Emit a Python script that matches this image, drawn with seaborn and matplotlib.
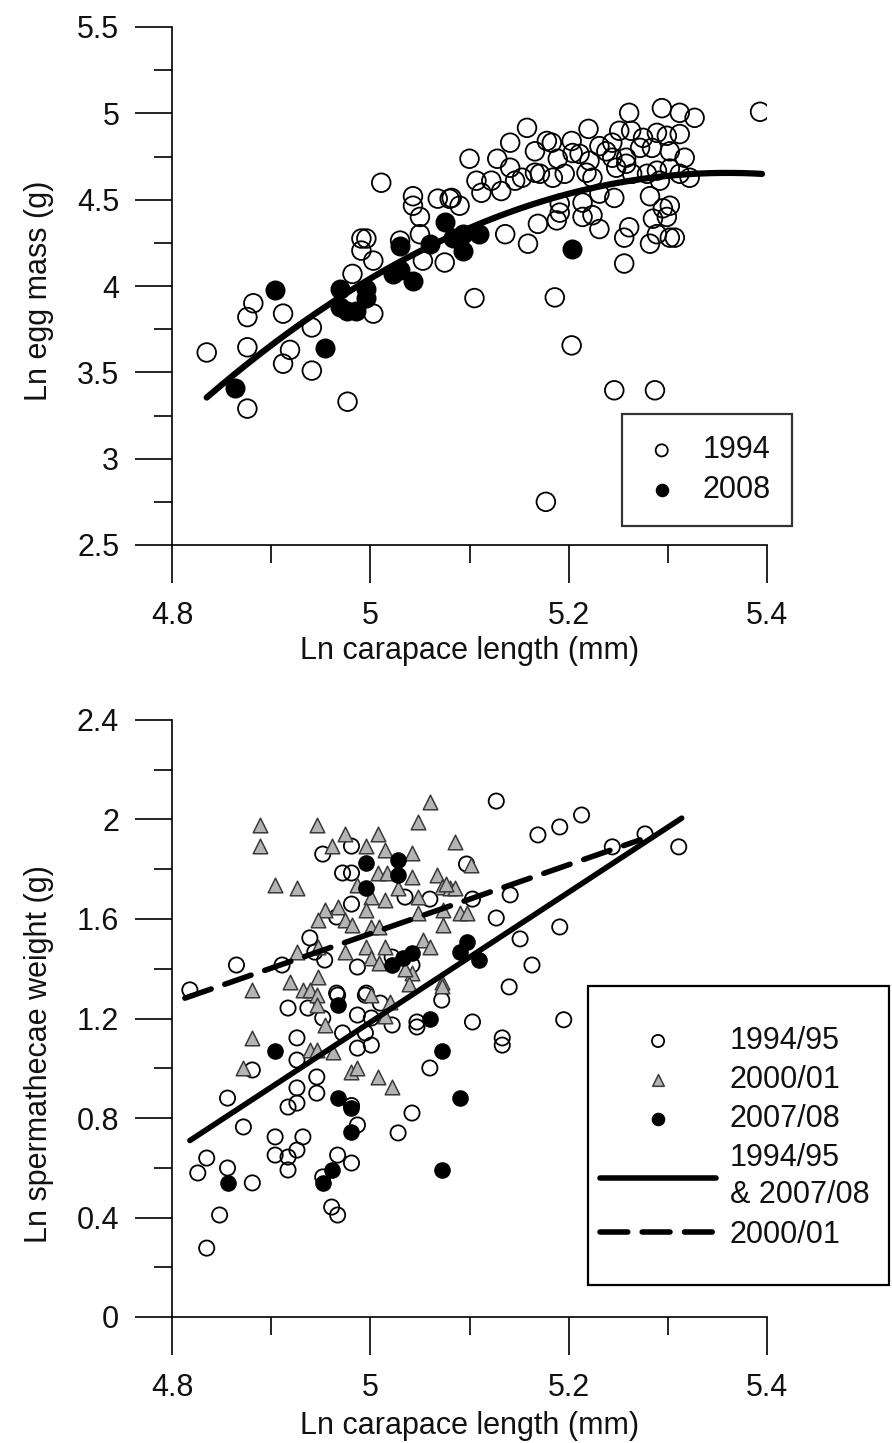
import numpy as np
import pandas as pd
import matplotlib
matplotlib.use("Agg")
import matplotlib.pyplot as plt
import seaborn as sns
from matplotlib.ticker import MultipleLocator, FuncFormatter
from matplotlib.patches import Rectangle

# ---------------- data: top panel (egg mass) ----------------
egg_1994_x = [5.011, 5.043, 5.043, 5.050, 5.050, 5.068, 5.082, 5.075, 5.053, 5.030,
              4.991, 4.996, 4.991, 5.003, 4.982, 5.003, 4.882, 4.876, 4.912, 4.941,
              4.835, 4.876, 4.919, 4.912, 4.941, 4.876, 4.977,
              5.393, 5.261, 5.294, 5.312, 5.327, 5.158, 5.220, 5.251, 5.263, 5.312,
              5.141, 5.178, 5.183, 5.203, 5.231, 5.244, 5.275, 5.289, 5.299, 5.100,
              5.128, 5.141, 5.166, 5.189, 5.204, 5.211, 5.221, 5.238, 5.244, 5.258,
              5.272, 5.284, 5.302, 5.317, 5.107, 5.122, 5.112, 5.132, 5.146, 5.153,
              5.166, 5.171, 5.184, 5.196, 5.218, 5.224, 5.248, 5.258, 5.264, 5.279,
              5.289, 5.292, 5.302, 5.312, 5.322, 5.080, 5.090, 5.191, 5.191, 5.188,
              5.214, 5.231, 5.246, 5.282, 5.302, 5.295, 5.299, 5.285, 5.169, 5.214,
              5.224, 5.231, 5.261, 5.256, 5.289, 5.302, 5.307, 5.282, 5.136, 5.159,
              5.256, 5.105, 5.186, 5.203, 5.246, 5.287, 5.177]
egg_1994_y = [4.598, 4.520, 4.465, 4.400, 4.300, 4.506, 4.510, 4.136, 4.147, 4.263,
              4.275, 4.275, 4.205, 4.147, 4.070, 3.840, 3.900, 3.820, 3.840, 3.760,
              3.615, 3.645, 3.630, 3.550, 3.510, 3.290, 3.330,
              5.009, 5.003, 5.030, 5.003, 4.974, 4.916, 4.910, 4.899, 4.899, 4.880,
              4.830, 4.840, 4.830, 4.840, 4.810, 4.830, 4.858, 4.887, 4.870, 4.737,
              4.737, 4.685, 4.780, 4.737, 4.770, 4.765, 4.725, 4.780, 4.743, 4.743,
              4.800, 4.800, 4.780, 4.743, 4.610, 4.610, 4.540, 4.550, 4.610, 4.627,
              4.656, 4.650, 4.627, 4.650, 4.656, 4.627, 4.685, 4.708, 4.650, 4.650,
              4.668, 4.610, 4.680, 4.650, 4.627, 4.505, 4.465, 4.477, 4.425, 4.380,
              4.483, 4.535, 4.510, 4.520, 4.465, 4.450, 4.400, 4.390, 4.360, 4.400,
              4.410, 4.330, 4.340, 4.280, 4.300, 4.280, 4.280, 4.245, 4.300, 4.245,
              4.130, 3.930, 3.934, 3.656, 3.396, 3.396, 2.750]

egg_2008_x = [4.864, 4.904, 4.954, 4.969, 4.969, 4.976, 4.986, 4.996, 4.996, 5.023,
              5.030, 5.043, 5.030, 5.060, 5.075, 5.083, 5.093, 5.110, 5.093, 5.203]
egg_2008_y = [3.407, 3.974, 3.640, 3.985, 3.876, 3.858, 3.858, 3.985, 3.930, 4.070,
              4.234, 4.030, 4.090, 4.245, 4.370, 4.280, 4.205, 4.300, 4.300, 4.216]

# quadratic fit (vertex form): y = peak - k * (x - x_peak)^2
egg_fit_k = 4.72
egg_fit_xpeak = 5.36
egg_fit_peak = 4.655
egg_fit_xrange = [4.835, 5.395]

# ---------------- data: bottom panel (spermathecae) ----------------
sp_9495_x = [4.952, 4.981, 4.972, 4.981, 4.981, 5.035, 5.060, 4.939, 4.944, 4.954,
             4.865, 4.911, 4.966, 4.987, 5.022, 5.042, 4.818, 4.966, 4.996,
             5.127, 5.169, 5.191, 5.213, 5.277, 5.244, 5.311, 5.097, 5.103, 5.141,
             5.127, 5.191, 5.151, 5.163, 5.140,
             4.917, 4.937, 4.967, 4.995, 5.010, 5.072, 4.952, 4.987, 5.001, 5.022,
             5.047, 5.047, 5.103, 5.133, 5.133, 4.926, 4.972, 4.995, 4.987, 5.001,
             4.926, 5.060, 4.881, 4.946, 4.926, 4.946, 4.856, 4.917, 4.926, 4.981,
             4.872, 4.987, 5.042, 5.028, 4.904, 4.932, 4.904, 4.917, 4.926, 4.917,
             4.967, 4.981, 4.835, 4.826, 4.856, 4.881, 4.952, 4.848, 4.961, 4.967,
             4.835, 5.195]
sp_9495_y = [1.861, 1.893, 1.785, 1.785, 1.660, 1.688, 1.680, 1.524, 1.467, 1.435,
             1.415, 1.415, 1.608, 1.407, 1.447, 1.415, 1.315, 1.302, 1.302,
             2.074, 1.938, 1.970, 2.018, 1.942, 1.890, 1.890, 1.821, 1.680, 1.697,
             1.604, 1.568, 1.520, 1.415, 1.327,
             1.242, 1.242, 1.294, 1.294, 1.262, 1.274, 1.202, 1.214, 1.202, 1.174,
             1.186, 1.166, 1.186, 1.122, 1.093, 1.122, 1.142, 1.142, 1.081, 1.093,
             1.033, 1.001, 0.993, 0.965, 0.921, 0.900, 0.880, 0.844, 0.860, 0.850,
             0.764, 0.772, 0.820, 0.740, 0.724, 0.724, 0.651, 0.643, 0.671, 0.591,
             0.651, 0.619, 0.639, 0.579, 0.599, 0.539, 0.563, 0.410, 0.442, 0.410,
             0.277, 1.195]

sp_0001_x = [4.889, 4.889, 4.946, 4.974, 5.008, 4.961, 4.996, 5.015, 5.042, 5.060,
             5.048, 5.085, 4.904, 4.926, 5.008, 5.017, 5.042, 5.067, 5.072, 5.080,
             5.028, 5.048, 5.015, 4.987, 5.001, 4.954, 4.967, 4.947, 4.974, 4.982,
             4.996, 5.001, 5.009, 5.048, 5.073, 5.073, 5.053, 5.060, 4.926, 4.947,
             4.974, 4.996, 5.015, 5.001, 5.009, 5.042, 5.035, 4.919, 4.881, 4.932,
             4.939, 4.947, 5.072, 4.946, 4.946, 4.954, 4.881, 4.939, 4.946, 4.962,
             4.872, 4.981, 4.987, 5.008, 5.022, 5.020, 5.015, 5.001, 5.072, 5.039,
             5.102, 5.085, 5.076, 5.090, 5.097]
sp_0001_y = [1.978, 1.893, 1.978, 1.942, 1.942, 1.893, 1.893, 1.877, 1.865, 2.070,
             1.990, 1.910, 1.737, 1.725, 1.785, 1.785, 1.770, 1.777, 1.730, 1.725,
             1.725, 1.690, 1.676, 1.737, 1.690, 1.636, 1.648, 1.596, 1.596, 1.576,
             1.636, 1.568, 1.568, 1.624, 1.576, 1.636, 1.516, 1.487, 1.467, 1.487,
             1.467, 1.487, 1.487, 1.443, 1.423, 1.383, 1.400, 1.347, 1.315, 1.315,
             1.315, 1.367, 1.347, 1.294, 1.254, 1.174, 1.122, 1.073, 1.073, 1.065,
             1.001, 0.985, 1.001, 0.965, 0.925, 1.266, 1.210, 1.294, 1.330, 1.340,
             1.817, 1.725, 1.740, 1.624, 1.624]

sp_0708_x = [4.996, 5.028, 5.028, 4.996, 5.022, 5.042, 5.033, 5.097, 5.090, 5.110,
             4.967, 5.060, 4.904, 5.072, 4.967, 4.981, 4.981, 5.090, 5.072, 4.961,
             4.952, 4.856]
sp_0708_y = [1.825, 1.837, 1.777, 1.725, 1.415, 1.463, 1.443, 1.508, 1.467, 1.435,
             1.254, 1.198, 1.069, 1.069, 0.880, 0.840, 0.744, 0.880, 0.591, 0.591,
             0.539, 0.539]

# linear fits: y = intercept + slope * x
fit_combined = {"intercept": -11.88, "slope": 2.613, "xrange": [4.818, 5.314]}
fit_0001 = {"intercept": -5.389, "slope": 1.386, "xrange": [4.813, 5.272]}

# ---------------- plotting ----------------
sns.set_style("ticks")
plt.rcParams['font.family'] = ['Liberation Sans', 'DejaVu Sans']
FS = 22

fig = plt.figure(figsize=(8.92, 14.43), dpi=100)
W, H = 892.0, 1443.0
ax1 = fig.add_axes([172 / W, 1 - 545 / H, 595 / W, 518 / H])
ax2 = fig.add_axes([172 / W, 1 - 1317 / H, 595 / W, 597 / H])

df94 = pd.DataFrame({"x": egg_1994_x, "y": egg_1994_y})
df08 = pd.DataFrame({"x": egg_2008_x, "y": egg_2008_y})
sns.scatterplot(data=df94, x="x", y="y", ax=ax1, marker="o", s=180,
                facecolor="none", edgecolor="black", linewidth=1.3, label="1994", zorder=3)
sns.scatterplot(data=df08, x="x", y="y", ax=ax1, marker="o", s=180,
                color="black", edgecolor="black", linewidth=1.0, label="2008", zorder=4)
cx = np.linspace(egg_fit_xrange[0], egg_fit_xrange[1], 200)
cy = egg_fit_peak - egg_fit_k * (cx - egg_fit_xpeak) ** 2
sns.lineplot(x=cx, y=cy, ax=ax1, color="black", linewidth=4.5, zorder=5,
             legend=False, solid_capstyle="round")

dfa = pd.DataFrame({"x": sp_9495_x, "y": sp_9495_y})
dfb = pd.DataFrame({"x": sp_0001_x, "y": sp_0001_y})
dfc = pd.DataFrame({"x": sp_0708_x, "y": sp_0708_y})
sns.scatterplot(data=dfa, x="x", y="y", ax=ax2, marker="o", s=120,
                facecolor="none", edgecolor="black", linewidth=1.3, label="1994/95", zorder=3)
sns.scatterplot(data=dfb, x="x", y="y", ax=ax2, marker="^", s=110,
                color="#b4b4b4", edgecolor="#3a3a3a", linewidth=1.1, label="2000/01", zorder=3)
sns.scatterplot(data=dfc, x="x", y="y", ax=ax2, marker="o", s=120,
                color="black", edgecolor="black", linewidth=1.0, label="2007/08", zorder=4)
lx = np.linspace(fit_combined["xrange"][0], fit_combined["xrange"][1], 50)
sns.lineplot(x=lx, y=fit_combined["intercept"] + fit_combined["slope"] * lx, ax=ax2,
             color="black", linewidth=4, label="1994/95\n& 2007/08", zorder=5,
             solid_capstyle="round")
dx = np.linspace(fit_0001["xrange"][0], fit_0001["xrange"][1], 50)
sns.lineplot(x=dx, y=fit_0001["intercept"] + fit_0001["slope"] * dx, ax=ax2,
             color="black", linewidth=4, linestyle=(0, (5, 2.6)), label="2000/01",
             zorder=5, dash_capstyle="round")

fmt = FuncFormatter(lambda v, p: f"{v:g}")
for ax, (y0, y1, ymaj, ymin) in [(ax1, (2.5, 5.5, 0.5, 0.25)), (ax2, (0, 2.4, 0.4, 0.2))]:
    ax.set_xlim(4.8, 5.4)
    ax.set_ylim(y0, y1)
    ax.xaxis.set_major_locator(MultipleLocator(0.2))
    ax.xaxis.set_minor_locator(MultipleLocator(0.1))
    ax.yaxis.set_major_locator(MultipleLocator(ymaj))
    ax.yaxis.set_minor_locator(MultipleLocator(ymin))
    ax.xaxis.set_major_formatter(fmt)
    ax.yaxis.set_major_formatter(fmt)
    ax.tick_params(which="major", direction="out", length=27, width=1.2,
                   labelsize=FS, color="black", labelcolor="#111111")
    ax.tick_params(which="minor", direction="out", length=13, width=1.2, color="black")
    ax.tick_params(axis="x", which="major", pad=13)
    ax.tick_params(axis="y", which="major", pad=11)
    for s in ["top", "right"]:
        ax.spines[s].set_visible(False)
    for s in ["left", "bottom"]:
        ax.spines[s].set_linewidth(1.2)
        ax.spines[s].set_color("black")
    ax.set_xlabel("Ln carapace length (mm)", fontsize=FS, color="#111111")
    ax.set_facecolor("white")

ax1.set_ylabel("Ln egg mass (g)", fontsize=FS, color="#111111")
ax2.set_ylabel("Ln spermathecae weight (g)", fontsize=FS, color="#111111")
ax1.yaxis.set_label_coords(-0.198, 0.49)
ax2.yaxis.set_label_coords(-0.198, 0.44)
ax1.xaxis.set_label_coords(0.5, -0.175)
ax2.xaxis.set_label_coords(0.5, -0.157)

h1, l1 = ax1.get_legend_handles_labels()
leg1 = ax1.legend(h1, l1, loc="upper left", bbox_to_anchor=(622 / W, 1 - 414 / H),
                  bbox_transform=fig.transFigure, fontsize=FS, frameon=True,
                  fancybox=False, edgecolor="black", markerscale=0.65,
                  handlelength=1.2, handletextpad=0.75, borderpad=0.7,
                  labelspacing=0.3, borderaxespad=0)
leg1.get_frame().set_linewidth(1.6)

# bottom legend: content placed without frame, frame drawn as a separate box
h2, l2 = ax2.get_legend_handles_labels()
leg2 = ax2.legend(h2, l2, loc="upper left", bbox_to_anchor=(600 / W, 1 - 1026 / H),
                  bbox_transform=fig.transFigure, fontsize=FS, frameon=False,
                  markerscale=0.8, handlelength=3.8, handletextpad=0.45,
                  borderpad=0, labelspacing=0.3, borderaxespad=0)
for t in leg1.get_texts() + leg2.get_texts():
    t.set_color("#111111")
    t.set_linespacing(1.3)
fig.patches.append(Rectangle((588 / W, 1 - 1285 / H), (889 - 588) / W, (1285 - 986) / H,
                             transform=fig.transFigure, fill=False,
                             edgecolor="black", linewidth=1.6, zorder=10))

fig.savefig("out.png", dpi=100, facecolor="white")
